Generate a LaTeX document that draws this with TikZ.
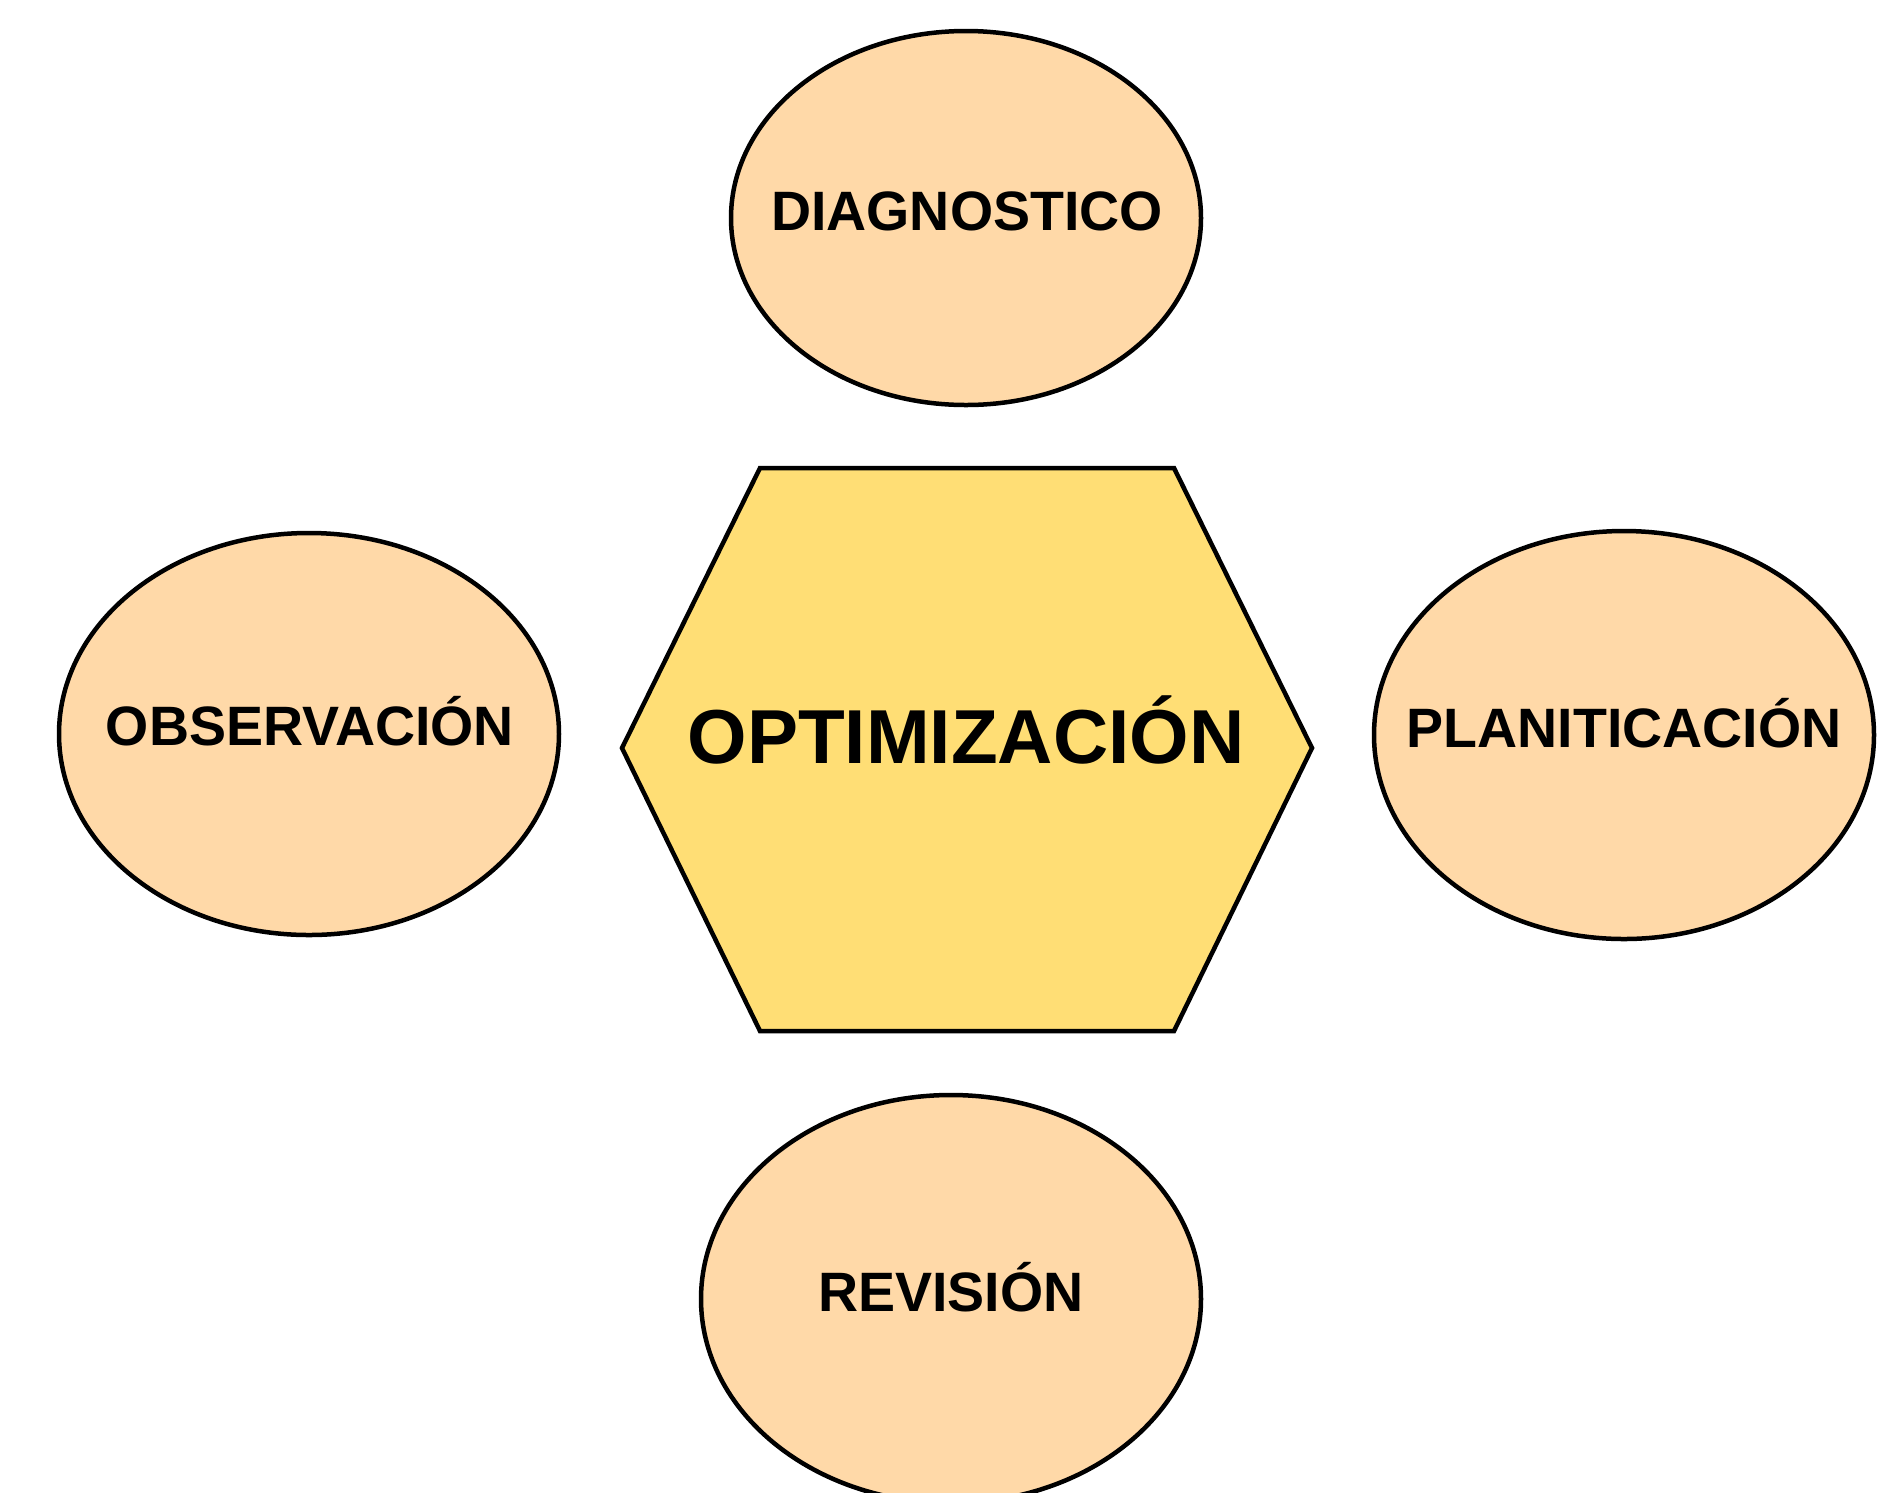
\documentclass[tikz,border=0pt]{standalone}
\usepackage{fontspec}
\setmainfont{Liberation Sans}
\usetikzlibrary{shapes.geometric}
\definecolor{peach}{HTML}{FFD9A8}
\definecolor{gold}{HTML}{FFDE75}
\tikzset{
  stage/.style={ellipse, draw=black, line width=4.5pt, fill=peach, inner sep=0pt},
  stagetext/.style={anchor=base, inner sep=0pt, font=\fontsize{55.5}{62}\selectfont\bfseries},
  hubtext/.style={anchor=base, inner sep=0pt, font=\fontsize{76.5}{86}\selectfont\bfseries},
}
\begin{document}
\begin{tikzpicture}[x=1pt,y=-1pt]
\useasboundingbox (0,0) rectangle (1879,1492);
\fill[white] (0,0) rectangle (1879,1492);
\clip (0,0) rectangle (1879,1492);
% outer stages
\node[stage, minimum width=470pt, minimum height=374pt] (diag) at (966,218) {};
\node[stage, minimum width=500pt, minimum height=402pt] (obs) at (309,734) {};
\node[stage, minimum width=500pt, minimum height=408pt] (plan) at (1624,735) {};
\node[stage, minimum width=500pt, minimum height=408pt] (rev) at (951,1299) {};
% central hexagon
\coordinate (h1) at (622,748);
\coordinate (h2) at (760,468);
\coordinate (h3) at (1174,468);
\coordinate (h4) at (1312,748);
\coordinate (h5) at (1174,1031);
\coordinate (h6) at (760,1031);
\draw[line width=4.5pt, fill=gold, line join=miter] (h1) -- (h2) -- (h3) -- (h4) -- (h5) -- (h6) -- cycle;
% texts
\node[stagetext] (diagT) at (967,230) {DIAGNOSTICO};
\node[stagetext] (obsT) at (310,745) {OBSERVACIÓN};
\node[stagetext] (planT) at (1624,747) {PLANITICACIÓN};
\node[stagetext] (revT) at (951,1311) {REVISIÓN};
\node[hubtext] (optT) at (966,763) {OPTIMIZACIÓN};
\end{tikzpicture}
\end{document}
